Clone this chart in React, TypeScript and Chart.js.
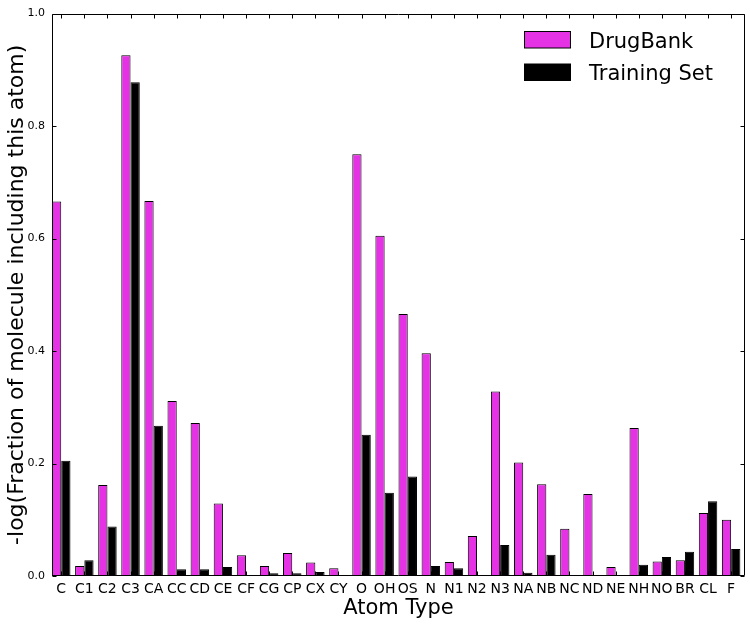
import React, { useEffect, useRef } from "react";
import { Chart, registerables } from "chart.js";

Chart.register(...registerables);

const categories = ["C", "C1", "C2", "C3", "CA", "CC", "CD", "CE", "CF", "CG", "CP", "CX", "CY", "O", "OH", "OS", "N", "N1", "N2", "N3", "NA", "NB", "NC", "ND", "NE", "NH", "NO", "BR", "CL", "F"];
const drugBank = [0.666, 0.018, 0.162, 0.926, 0.667, 0.311, 0.272, 0.129, 0.037, 0.018, 0.041, 0.024, 0.014, 0.75, 0.605, 0.466, 0.396, 0.025, 0.071, 0.328, 0.202, 0.163, 0.084, 0.146, 0.016, 0.263, 0.026, 0.028, 0.112, 0.1];
const trainingSet = [0.205, 0.028, 0.088, 0.878, 0.267, 0.012, 0.012, 0.016, 0.002, 0.005, 0.005, 0.007, 0.002, 0.251, 0.148, 0.177, 0.018, 0.014, 0, 0.055, 0.006, 0.038, 0.002, 0, 0, 0.02, 0.034, 0.043, 0.133, 0.048];
const yTicks = [0, 0.2, 0.4, 0.6, 0.8, 1.0];
const seriesNames = ["DrugBank", "Training Set"];
const seriesColors = ["#e532e5", "#000000"];
const xTitle = "Atom Type";
const yTitle = "-log(Fraction of molecule including this atom)";
const BAR_OFFSET = 0.4;

const FONT = "'DejaVu Sans', sans-serif";

const framePlugin = {
  id: "frame",
  afterDatasetsDraw(chart: any) {
    const { ctx, chartArea: a, scales } = chart;
    const xs = scales.x;
    const ys = scales.y;
    ctx.save();
    ctx.strokeStyle = "#000";
    ctx.lineWidth = 1;
    const L = Math.round(a.left) + 0.5;
    const R = Math.round(a.right) - 0.5;
    const T = Math.round(a.top) + 0.5;
    const B = Math.round(a.bottom) - 0.5;
    ctx.beginPath();
    ctx.rect(L, T, R - L, B - T);
    const tl = 4;
    categories.forEach((_, i) => {
      const px = Math.round(xs.getPixelForValue(i + BAR_OFFSET)) + 0.5;
      ctx.moveTo(px, T);
      ctx.lineTo(px, T + tl);
      ctx.moveTo(px, B);
      ctx.lineTo(px, B - tl);
    });
    yTicks.forEach((v) => {
      const py = Math.round(ys.getPixelForValue(v)) + 0.5;
      ctx.moveTo(L, py);
      ctx.lineTo(L + tl, py);
      ctx.moveTo(R, py);
      ctx.lineTo(R - tl, py);
    });
    ctx.stroke();
    ctx.restore();
  },
  afterDraw(chart: any) {
    const { ctx } = chart;
    ctx.save();
    const px = 524.5;
    const pw = 46;
    const rows = [31.5, 64];
    ctx.font = `21px ${FONT}`;
    ctx.textBaseline = "alphabetic";
    ctx.textAlign = "left";
    seriesNames.forEach((name, i) => {
      const y = rows[i];
      ctx.fillStyle = seriesColors[i];
      ctx.fillRect(px, y, pw, 16.5);
      ctx.strokeStyle = "#000";
      ctx.lineWidth = 1;
      ctx.strokeRect(px, y, pw, 16.5);
      ctx.fillStyle = "#000";
      ctx.fillText(name, 589, y + 16);
    });
    ctx.restore();
  },
};

export default function App() {
  const ref = useRef<HTMLCanvasElement | null>(null);
  useEffect(() => {
    if (!ref.current) return;
    Chart.defaults.font.family = FONT;
    Chart.defaults.color = "#000";
    const mk = (vals: number[]) => vals.map((v, i) => ({ x: i + BAR_OFFSET, y: v }));
    const chart = new Chart(ref.current, {
      type: "bar",
      data: {
        datasets: [
          {
            label: seriesNames[0],
            data: mk(drugBank),
            backgroundColor: seriesColors[0],
            borderColor: "#000",
            borderWidth: 1,
            borderSkipped: false,
            categoryPercentage: 0.8,
            barPercentage: 1.0,
          },
          {
            label: seriesNames[1],
            data: mk(trainingSet),
            backgroundColor: seriesColors[1],
            borderColor: "#000",
            borderWidth: 1,
            borderSkipped: false,
            categoryPercentage: 0.8,
            barPercentage: 1.0,
          },
        ],
      } as any,
      options: {
        animation: false,
        responsive: true,
        maintainAspectRatio: false,
        layout: { padding: { top: 10, right: 5, left: 0, bottom: 0 } },
        plugins: { legend: { display: false }, tooltip: { enabled: false } },
        scales: {
          x: {
            type: "linear",
            offset: false,
            min: 0,
            max: categories.length,
            afterBuildTicks: (s: any) => {
              s.ticks = categories.map((_, i) => ({ value: i + BAR_OFFSET }));
            },
            afterFit: (s: any) => {
              s.height = 49;
            },
            grid: { display: false, drawTicks: false, offset: false },
            border: { display: false },
            ticks: {
              autoSkip: false,
              maxRotation: 0,
              minRotation: 0,
              padding: 5,
              color: "#000",
              font: { size: 14, family: FONT },
              callback: (_v: any, i: number) => categories[i] ?? "",
            },
            title: {
              display: true,
              text: xTitle,
              color: "#000",
              font: { size: 21, family: FONT },
              padding: { top: 0, bottom: 4 },
            },
          },
          y: {
            min: 0,
            max: 1,
            afterBuildTicks: (s: any) => {
              s.ticks = yTicks.map((v) => ({ value: v }));
            },
            afterFit: (s: any) => {
              s.width = 52;
            },
            grid: { display: false, drawTicks: false },
            border: { display: false },
            ticks: {
              padding: 7,
              color: "#000",
              font: { size: 11, family: FONT },
              callback: (v: any) => Number(v).toFixed(1),
            },
            title: {
              display: true,
              text: yTitle,
              color: "#000",
              font: { size: 22, family: FONT },
              padding: { top: 4, bottom: 0 },
            },
          },
        },
      } as any,
      plugins: [framePlugin],
    });
    return () => chart.destroy();
  }, []);
  return (
    <div style={{ position: "fixed", left: 0, top: 0, width: 750, height: 625, background: "#fff" }}>
      <canvas ref={ref} />
    </div>
  );
}
